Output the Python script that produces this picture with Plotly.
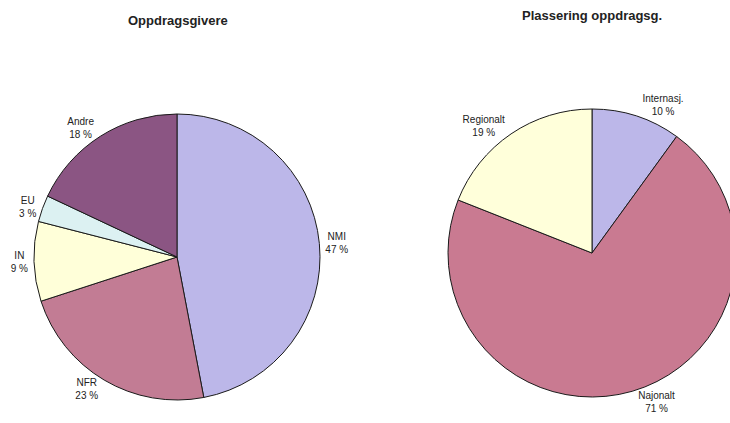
import plotly.graph_objects as go

left_labels = ["NMI", "NFR", "IN", "EU", "Andre"]
left_values = [47, 23, 9, 3, 18]
left_colors = ["#bcb7e9", "#c27c94", "#ffffd9", "#dcf1f2", "#8b5583"]

right_labels = ["Internasj.", "Najonalt", "Regionalt"]
right_values = [10, 71, 19]
right_colors = ["#bcb7e9", "#c97a91", "#ffffda"]

titles = ["Oppdragsgivere", "Plassering oppdragsg."]

# figure is slightly wider than the window so the right pie is clipped like the original
W, H = 742, 423
font = dict(family="Liberation Sans, Arial, sans-serif", size=10, color="#222222")

def dom(x0, x1, ytop, ybot):
    return dict(x=[x0 / W, x1 / W], y=[1 - ybot / H, 1 - ytop / H])

fig = go.Figure()
fig.add_trace(go.Pie(
    labels=left_labels, values=left_values, sort=False, direction="clockwise",
    rotation=0, marker=dict(colors=left_colors, line=dict(color="#1a1a1a", width=1)),
    texttemplate="%{label}<br>%{value} %", textposition="outside",
    textfont=font, showlegend=False, hoverinfo="label+value",
    domain=dom(34, 320, 114, 400),
))
fig.add_trace(go.Pie(
    labels=right_labels, values=right_values, sort=False, direction="clockwise",
    rotation=0, marker=dict(colors=right_colors, line=dict(color="#1a1a1a", width=1)),
    texttemplate="%{label}<br>%{value} %", textposition="outside",
    textfont=font, showlegend=False, hoverinfo="label+value",
    domain=dom(448, 736, 109, 397),
))
title_font = dict(family="Liberation Sans, Arial, sans-serif", size=13, color="#222222")
fig.add_annotation(text="<b>" + titles[0] + "</b>", x=178 / W, y=1 - 21 / H,
                   xref="paper", yref="paper", showarrow=False,
                   xanchor="center", yanchor="middle", font=title_font)
fig.add_annotation(text="<b>" + titles[1] + "</b>", x=592 / W, y=1 - 15 / H,
                   xref="paper", yref="paper", showarrow=False,
                   xanchor="center", yanchor="middle", font=title_font)
fig.update_layout(width=W, height=H, margin=dict(l=0, r=0, t=0, b=0),
                  paper_bgcolor="white", plot_bgcolor="white")
fig.write_html("out.html", config={"displayModeBar": False},
               post_script="document.body.style.margin='0';document.body.style.overflow='hidden';")
